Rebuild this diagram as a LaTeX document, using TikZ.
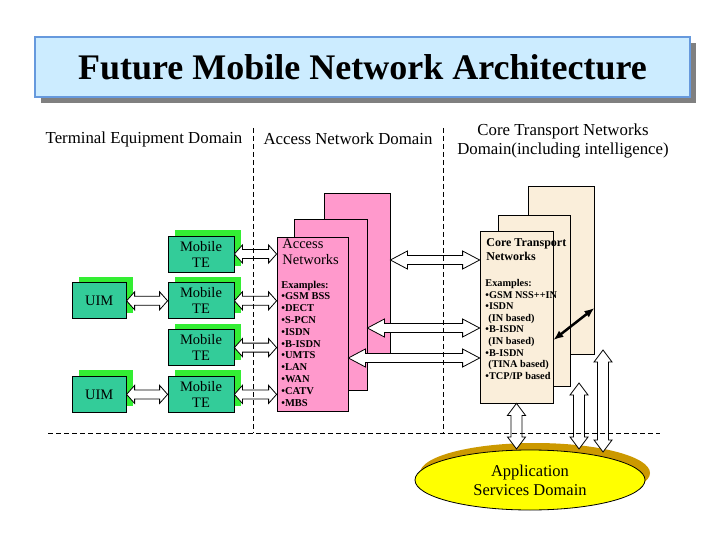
\documentclass[tikz,border=0pt]{standalone}
\usepackage{fontspec}
\setmainfont{Liberation Serif}
\usetikzlibrary{positioning,calc,shadows,arrows.meta,shapes.geometric}
\definecolor{titleblue}{RGB}{204,236,255}
\definecolor{titleedge}{RGB}{102,153,221}
\definecolor{tegreen}{RGB}{51,204,153}
\definecolor{shadegreen}{RGB}{51,238,51}
\definecolor{accpink}{RGB}{255,153,204}
\definecolor{corebeige}{RGB}{250,238,218}
\definecolor{appyellow}{RGB}{255,255,0}
\definecolor{appgold}{RGB}{204,153,0}
\tikzset{
	arch/.style={x=1pt,y=-1pt,line width=0.8pt},
	titlebox/.style={draw=titleedge,line width=2pt,fill=titleblue,minimum width=655pt,
		minimum height=60pt,font=\fontsize{36}{40}\selectfont\bfseries,
		drop shadow={shadow xshift=6pt,shadow yshift=-6pt,fill=gray,opacity=1}},
	domainlabel/.style={font=\fontsize{16.8}{19}\selectfont,align=center,inner sep=0pt},
	device/.style={rectangle,draw,fill=tegreen,minimum height=36pt,inner sep=0pt,
		align=center,font=\fontsize{14.5}{16}\selectfont,
		drop shadow={shadow xshift=7pt,shadow yshift=6pt,fill=shadegreen,opacity=1}},
	te/.style={device,minimum width=66pt},
	uim/.style={device,minimum width=54pt},
	accnet/.style={rectangle,draw,fill=accpink,inner sep=0pt},
	corenet/.style={rectangle,draw,fill=corebeige,inner sep=0pt},
	boxhead/.style={anchor=north west,inner sep=0pt,align=left},
	examples/.style={anchor=north west,inner sep=0pt,align=left,
		font=\fontsize{10.5}{11.8}\selectfont\bfseries},
	appdomain/.style={ellipse,draw,fill=appyellow,minimum width=230pt,minimum height=60pt,
		inner sep=0pt,align=center,font=\fontsize{16.5}{19}\selectfont,
		drop shadow={shadow xshift=5pt,shadow yshift=7pt,fill=appgold,opacity=1}},
	hollow/.style={draw,fill=white,line width=0.8pt,line join=miter},
	divider/.style={dash pattern=on 5pt off 3pt,line width=0.8pt},
	link/.style={{Latex[length=10pt,width=8pt]}-{Latex[length=10pt,width=8pt]},line width=2.5pt}
}
\newcommand{\headw}{9pt}
\newcommand{\shaftw}{4.5pt}
% hollow double arrow, #1 = head length
\newcommand{\blockarrow}[3][8pt]{%
	\path (#2) coordinate (ba1) (#3) coordinate (ba2);
	\coordinate (bh1) at ($(ba1)!#1!(ba2)$);
	\coordinate (bh2) at ($(ba2)!#1!(ba1)$);
	\draw[hollow] (ba1) -- ($(bh1)!\headw!90:(ba2)$) -- ($(bh1)!\shaftw!90:(ba2)$)
		-- ($(bh2)!\shaftw!-90:(ba1)$) -- ($(bh2)!\headw!-90:(ba1)$) -- (ba2)
		-- ($(bh2)!\headw!90:(ba1)$) -- ($(bh2)!\shaftw!90:(ba1)$)
		-- ($(bh1)!\shaftw!-90:(ba2)$) -- ($(bh1)!\headw!-90:(ba2)$) -- cycle;
}

\begin{document}
\begin{tikzpicture}[arch]
	\useasboundingbox (0,0) rectangle (720,540);
	
	\node[titlebox] (title) at (362.5,67) {Future Mobile Network Architecture};
	
	\node[domainlabel] (ted) at (144,139) {Terminal Equipment Domain};
	\node[domainlabel] (and) at (348,139) {Access Network Domain};
	\node[domainlabel] (ctd) at (563,141) {Core Transport Networks\\Domain(including intelligence)};
	
	% terminal equipment
	\node[te] (te1) at (201,254) {Mobile\\TE};
	\node[te] (te2) [below=10pt of te1] {Mobile\\TE};
	\node[te] (te3) [below=10pt of te2] {Mobile\\TE};
	\node[te] (te4) [below=10pt of te3] {Mobile\\TE};
	\node[uim] (uim1) [left=41pt of te2] {UIM};
	\node[uim] (uim2) [left=41pt of te4] {UIM};
	
	% access networks
	\node[accnet,minimum width=66pt,minimum height=169pt] (accbk) at (357,277.5) {};
	\node[accnet,minimum width=73pt,minimum height=171pt] (accmid) at (330.5,304.5) {};
	\node[accnet,minimum width=71pt,minimum height=174pt] (acc) at (312.5,324) {};
	\node[boxhead,font=\fontsize{14.5}{16}\selectfont] (acchd) at (282,238.5) {Access\\Networks};
	\node[examples] (accex) at (281,280.5) {Examples:\\\textbullet GSM BSS\\\textbullet DECT\\
		\textbullet S-PCN\\\textbullet ISDN\\\textbullet B-ISDN\\\textbullet UMTS\\
		\textbullet LAN\\\textbullet WAN\\\textbullet CATV\\\textbullet MBS};
	
	% core transport networks
	\node[corenet,minimum width=66pt,minimum height=168pt] (corebk) at (561,270) {};
	\node[corenet,minimum width=72pt,minimum height=171pt] (coremid) at (534,300.5) {};
	\node[corenet,minimum width=73pt,minimum height=172pt] (core) at (516.5,317) {};
	\node[boxhead,font=\fontsize{12}{13.5}\selectfont\bfseries] (corehd) at (486,238.5) {Core Transport\\Networks};
	\node[examples,font=\fontsize{10.3}{11.6}\selectfont\bfseries] (coreex) at (485,279) {Examples:\\
		\textbullet GSM NSS++IN\\\textbullet ISDN\\\hspace{3pt}(IN based)\\
		\textbullet B-ISDN\\\hspace{3pt}(IN based)\\\textbullet B-ISDN\\
		\hspace{3pt}(TINA based)\\\textbullet TCP/IP based};
	
	\node[appdomain] (app) at (530,480) {Application\\Services Domain};
	
	% hollow arrows
	\blockarrow{uim1.east}{te2.west}
	\blockarrow{uim2.east}{te4.west}
	\foreach \i in {1,...,4} {
		\coordinate (ain\i) at (acc.west |- te\i.east);
		\blockarrow{te\i.east}{ain\i}
	}
	\coordinate (k1) at (accbk.east |- 0,260);
	\coordinate (k2) at (accmid.east |- 0,328);
	\coordinate (k3) at (acc.east |- 0,358);
	\foreach \k in {1,2,3} {
		\coordinate (kc\k) at (core.west |- k\k);
		\blockarrow[17pt]{k\k}{kc\k}
	}
	\renewcommand{\shaftw}{5.5pt}
	\coordinate (v1) at (core.south |- 0,449);
	\coordinate (v2a) at (579,383);
	\coordinate (v2b) at (579,449);
	\coordinate (v3a) at (603,350);
	\coordinate (v3b) at (603,452);
	\blockarrow[12pt]{core.south}{v1}
	\blockarrow[12pt]{v2a}{v2b}
	\blockarrow[12pt]{v3a}{v3b}
	
	\draw[link] ($(core.east)+(0,23)$) -- ($(corebk.east)+(0,38)$);
	
	% domain borders
	\draw[divider] (253,128) -- (253,433);
	\draw[divider] (443,128) -- (443,433);
	\draw[divider] (48,433) -- (660,433);
\end{tikzpicture}
\end{document}
